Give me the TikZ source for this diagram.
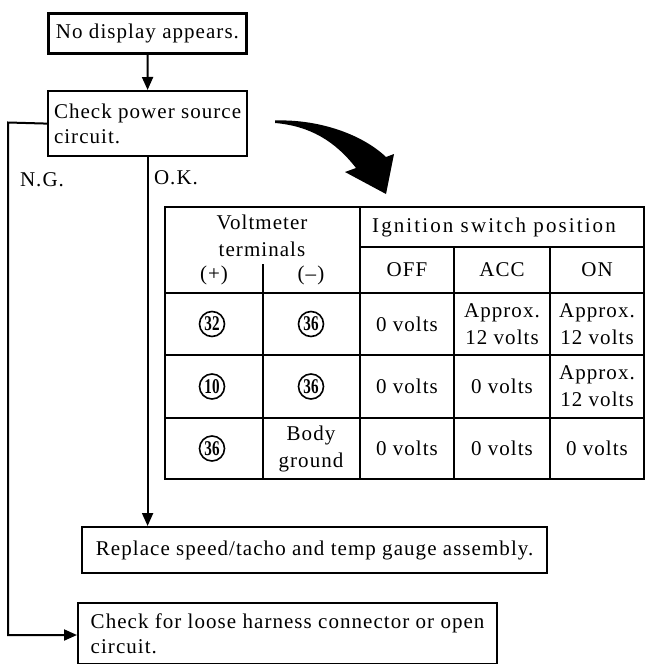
\documentclass[tikz,border=0pt]{standalone}
\usepackage{fontspec}
\usepackage{graphicx}
\setmainfont{Liberation Serif}[LetterSpace=5]
\newfontfamily\numfont{Liberation Serif}
\newfontfamily\widefont{Liberation Serif}[LetterSpace=10]
\usetikzlibrary{arrows.meta}
\begin{document}
\begin{tikzpicture}[x=1pt,y=-1pt,
  font=\fontsize{21}{25}\selectfont,
  box/.style={draw,line width=2.2pt,align=left,anchor=north west,inner sep=0pt},
  conn/.style={line width=2pt,-{Triangle[length=13pt,width=11pt]}},
  tline/.style={line width=1.8pt},
  cell/.style={align=center,inner sep=0pt,font=\fontsize{21}{27}\selectfont},
  circnum/.style={circle,draw,line width=1.6pt,minimum size=25pt,inner sep=0pt,
    font=\numfont\fontsize{21}{21}\selectfont\bfseries},
  lbl/.style={inner sep=0pt}]
\useasboundingbox (0,0) rectangle (649,664);

% flow boxes
\node[box,line width=3pt,minimum width=198pt,minimum height=40pt] (b1) at (47,12) {No display appears.};
\node[box,minimum width=199pt,minimum height=65pt] (b2) at (47,90) {Check power source\\circuit.};
\node[box,minimum width=465pt,minimum height=46pt] (b3) at (81,526) {Replace speed/tacho and temp gauge assembly.};
\node[box,minimum width=419pt,minimum height=61pt] (b4) at (77,602) {Check for loose harness connector or open\\circuit.};

% connectors
\draw[conn] (b1.south) -- (b2.north);
\draw[conn] (b2.south) -- (b2.south |- b3.north);
\coordinate (ng1) at (8,122.5);
\coordinate (ng2) at (8,635);
\draw[conn] (b2.west) -- (ng1) -- (ng2) -- (ng2 -| b4.west);

\node[lbl] (ng) at (42,180) {N.G.};
\node[lbl] (ok) at (176,178) {O.K.};

% big curved arrow
\fill (275,120.5) .. controls (320,119) and (363,135) .. (386,157)
  -- (394,154) -- (386,194) -- (345,172) -- (356,168)
  .. controls (335,141) and (310,126) .. (275,123) -- cycle;

% table grid
\draw[tline] (165,207) rectangle (644,479);
\draw[tline] (360,247) -- (644,247);
\draw[tline] (165,293) -- (644,293);
\draw[tline] (165,355) -- (644,355);
\draw[tline] (165,418) -- (644,418);
\draw[tline] (360,207) -- (360,479);
\draw[tline] (263,264) -- (263,479);
\draw[tline] (454,247) -- (454,479);
\draw[tline] (550,247) -- (550,479);

% header
\node[cell] (hv) at (262,236) {Voltmeter\\terminals};
\node[cell] (hp) at (214,275) {(+)};
\node[cell] (hm) at (311,275) {(--)};
\node[cell,font=\widefont\fontsize{21}{27}\selectfont] (hi) at (494,227) {Ignition switch position};
\node[cell] (hoff) at (407,270) {OFF};
\node[cell] (hacc) at (502,270) {ACC};
\node[cell] (hon) at (597,270) {ON};

% row 1
\node[circnum] (r1p) at (212,324) {\scalebox{0.72}[1]{32}};
\node[circnum] (r1m) at (311,324) {\scalebox{0.72}[1]{36}};
\node[cell] (r1a) at (407,324) {0 volts};
\node[cell] (r1b) at (502,324) {Approx.\\12 volts};
\node[cell] (r1c) at (597,324) {Approx.\\12 volts};
% row 2
\node[circnum] (r2p) at (212,386.5) {\scalebox{0.72}[1]{10}};
\node[circnum] (r2m) at (311,386.5) {\scalebox{0.72}[1]{36}};
\node[cell] (r2a) at (407,386.5) {0 volts};
\node[cell] (r2b) at (502,386.5) {0 volts};
\node[cell] (r2c) at (597,386.5) {Approx.\\12 volts};
% row 3
\node[circnum] (r3p) at (212,448.5) {\scalebox{0.72}[1]{36}};
\node[cell] (r3m) at (311,448.5) {Body\\ground};
\node[cell] (r3a) at (407,448.5) {0 volts};
\node[cell] (r3b) at (502,448.5) {0 volts};
\node[cell] (r3c) at (597,448.5) {0 volts};
\end{tikzpicture}
\end{document}
